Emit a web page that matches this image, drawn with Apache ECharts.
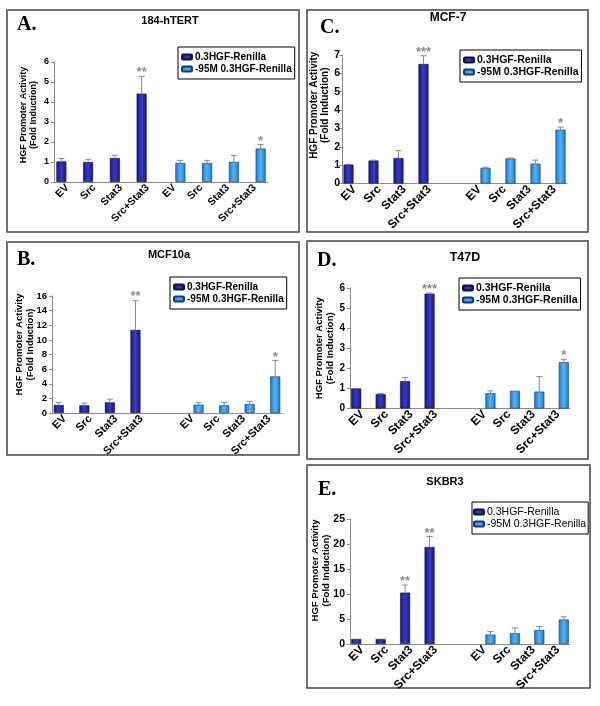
<!DOCTYPE html>
<html><head><meta charset="utf-8">
<script src="https://cdn.jsdelivr.net/npm/echarts@6/dist/echarts.min.js"></script>
<style>html,body{margin:0;padding:0;background:#fff}#c{width:600px;height:706px}</style>
</head><body><div id="c"></div>
<script>
// ---------- data ----------
const seriesNames = ['0.3HGF-Renilla', '-95M 0.3HGF-Renilla'];
const groupCats = ['EV', 'Src', 'Stat3', 'Src+Stat3'];
const yName = 'HGF Promoter Activity\n(Fold Induction)';

// A. 184-hTERT (8 categories, no spacer)
const aDark = [1.03, 1.0, 1.2, 4.42];
const aDarkErr = [1.17, 1.12, 1.33, 5.28];
const aDarkSig = ['', '', '', '**'];
const aLight = [0.95, 0.95, 1.0, 1.67];
const aLightErr = [1.08, 1.08, 1.32, 1.87];
const aLightSig = ['', '', '', '*'];
const aTicks = [0, 6, 1];

// B. MCF10a
const bDark = [1.1, 1.05, 1.45, 11.36];
const bDarkErr = [1.45, 1.36, 1.9, 15.4];
const bDarkSig = ['', '', '', '**'];
const bLight = [1.14, 1.05, 1.23, 5.0];
const bLightErr = [1.45, 1.45, 1.6, 7.18];
const bLightSig = ['', '', '', '*'];
const bTicks = [0, 16, 2];

// C. MCF-7
const cDark = [1.03, 1.25, 1.39, 6.51];
const cDarkErr = [1.05, 1.27, 1.79, 6.96];
const cDarkSig = ['', '', '', '***'];
const cLight = [0.85, 1.36, 1.08, 2.93];
const cLightErr = [0.89, 1.39, 1.27, 3.07];
const cLightSig = ['', '', '', '*'];
const cTicks = [0, 7, 1];

// D. T47D
const dDark = [1.0, 0.71, 1.36, 5.72];
const dDarkErr = [1.0, 0.75, 1.54, 5.75];
const dDarkSig = ['', '', '', '***'];
const dLight = [0.76, 0.88, 0.84, 2.31];
const dLightErr = [0.88, 0.88, 1.59, 2.45];
const dLightSig = ['', '', '', '*'];
const dTicks = [0, 6, 1];

// E. SKBR3
const eDark = [1.0, 1.0, 10.27, 19.4];
const eDarkErr = [1.0, 1.0, 11.8, 21.5];
const eDarkSig = ['', '', '**', '**'];
const eLight = [1.88, 2.14, 2.8, 4.9];
const eLightErr = [2.48, 3.2, 3.5, 5.43];
const eLightSig = ['', '', '', ''];
const eTicks = [0, 25, 5];

// ---------- layout / style ----------
const FONT = 'Liberation Sans';
const darkColor = {type:'linear',x:0,y:0,x2:1,y2:0,colorStops:[
  {offset:0,color:'#17177e'},{offset:0.5,color:'#3838cc'},{offset:1,color:'#17177e'}]};
const lightColor = {type:'linear',x:0,y:0,x2:1,y2:0,colorStops:[
  {offset:0,color:'#1a78d0'},{offset:0.5,color:'#52b4ff'},{offset:1,color:'#1a78d0'}]};

const panels = [
  {key:'A', title:'184-hTERT', dark:aDark, darkErr:aDarkErr, darkSig:aDarkSig, light:aLight, lightErr:aLightErr, lightSig:aLightSig, ticks:aTicks, spacer:false,
   grid:{left:54, top:62, width:214, height:120}, box:[7,10,292,222], titlePos:[170,15], titleFont:11, letterPos:[17,15],
   legend:{left:178, top:47}, legendPad:[4,3,4,3], legendFont:10, yFont:9, yMargin:5, nameFont:9, nameGap:15, nameShift:14, catFont:10.5, legendBold:true},
  {key:'B', title:'MCF10a', dark:bDark, darkErr:bDarkErr, darkSig:bDarkSig, light:bLight, lightErr:bLightErr, lightSig:bLightSig, ticks:bTicks, spacer:true,
   grid:{left:52, top:296, width:230, height:117}, box:[7,242,292,213], titlePos:[169,249], titleFont:11, letterPos:[17,250],
   legend:{left:170, top:277}, legendPad:[4,3,4,3], legendFont:10, yFont:9.5, yMargin:5, nameFont:9.5, nameGap:16, nameShift:20, catFont:11, legendBold:true},
  {key:'C', title:'MCF-7', dark:cDark, darkErr:cDarkErr, darkSig:cDarkSig, light:cLight, lightErr:cLightErr, lightSig:cLightSig, ticks:cTicks, spacer:true,
   grid:{left:342, top:55, width:225, height:128.5}, box:[307,10,281,222], titlePos:[448,12], titleFont:12, letterPos:[320,18],
   legend:{left:460, top:50}, legendPad:[4,3,4,3], legendFont:10.5, yFont:10.5, yMargin:2, nameFont:10, nameGap:11, nameShift:28, catFont:12, legendBold:true},
  {key:'D', title:'T47D', dark:dDark, darkErr:dDarkErr, darkSig:dDarkSig, light:dLight, lightErr:dLightErr, lightSig:dLightSig, ticks:dTicks, spacer:true,
   grid:{left:350, top:288, width:220, height:120.5}, box:[307,241,281,218], titlePos:[465,251], titleFont:12.5, letterPos:[317,251],
   legend:{left:459, top:278}, legendPad:[4,3,4,3], legendFont:10.5, yFont:10, yMargin:5, nameFont:9.5, nameGap:14, nameShift:0, catFont:12, legendBold:true},
  {key:'E', title:'SKBR3', dark:eDark, darkErr:eDarkErr, darkSig:eDarkSig, light:eLight, lightErr:eLightErr, lightSig:eLightSig, ticks:eTicks, spacer:true,
   grid:{left:350, top:519, width:220, height:125}, box:[307,465,283,223], titlePos:[445,476], titleFont:11, letterPos:[318,480],
   legend:{left:472, top:502}, legendPad:[4,2,4,1], legendFont:10.5, yFont:10.5, yMargin:5, nameFont:9.5, nameGap:18, nameShift:22, catFont:12, legendBold:false}
];

const grids = [], xAxes = [], yAxes = [], series = [], titles = [], legends = [], graphics = [];

function errSeries(idx, pts, sigs, side){
  return {
    type:'custom', xAxisIndex:idx, yAxisIndex:idx, silent:true, z:5,
    encode:{x:0, y:[1,2]},
    data: pts,
    renderItem:function(params, api){
      const xi = api.value(0), v = api.value(1), e = api.value(2);
      const p0 = api.coord([xi, v]);
      const p1 = api.coord([xi, e]);
      const cx = p0[0] + side * 6;
      const ch = [];
      if (e > v + 1e-9){
        ch.push({type:'line', shape:{x1:cx,y1:p0[1],x2:cx,y2:p1[1]}, style:{stroke:'#8a8a8a', lineWidth:1}});
        ch.push({type:'line', shape:{x1:cx-3,y1:p1[1],x2:cx+3,y2:p1[1]}, style:{stroke:'#8a8a8a', lineWidth:1}});
      }
      const s = sigs[params.dataIndex];
      if (s){
        ch.push({type:'text', style:{text:s, x:cx, y:p1[1]-10, align:'center', verticalAlign:'top',
          fill:'#8a8a8a', font:'bold 13px "' + FONT + '"'}});
      }
      return {type:'group', children:ch};
    }
  };
}

panels.forEach((p, i) => {
  const cats = p.spacer ? groupCats.concat([''], groupCats) : groupCats.concat(groupCats);
  const off = cats.length - 4;
  grids.push(Object.assign({containLabel:false}, p.grid));
  xAxes.push({
    type:'category', gridIndex:i, data:cats,
    axisLine:{lineStyle:{color:'#8a8a8a', width:1}},
    axisTick:{show:false},
    axisLabel:{interval:0, rotate:45, margin:4, color:'#000', fontFamily:FONT, fontWeight:'bold', fontSize:p.catFont}
  });
  yAxes.push({
    type:'value', gridIndex:i, min:p.ticks[0], max:p.ticks[1], interval:p.ticks[2],
    name:yName, nameLocation:'middle', nameRotate:90, nameGap:p.nameGap, nameMoveOverlap:false,
    nameTextStyle:{color:'#000', fontFamily:FONT, fontWeight:'bold', fontSize:p.nameFont, lineHeight:p.nameFont+1.5,
      padding:[0,0,0,p.nameShift]},
    axisLine:{show:true, lineStyle:{color:'#8a8a8a', width:1}},
    axisTick:{show:true, length:3, lineStyle:{color:'#8a8a8a'}},
    splitLine:{show:false},
    axisLabel:{margin:p.yMargin, color:'#000', fontFamily:FONT, fontWeight:'bold', fontSize:p.yFont}
  });
  const darkData = cats.map((c, k) => k < 4 ? p.dark[k] : '-');
  const lightData = cats.map((c, k) => k >= off ? p.light[k - off] : '-');
  series.push({name:seriesNames[0], type:'bar', xAxisIndex:i, yAxisIndex:i, data:darkData, barWidth:10, barGap:'20%',
    itemStyle:{color:darkColor, borderColor:'#101040', borderWidth:0.6}});
  series.push({name:seriesNames[1], type:'bar', xAxisIndex:i, yAxisIndex:i, data:lightData, barWidth:10, barGap:'20%',
    itemStyle:{color:lightColor, borderColor:'#0d3a6a', borderWidth:0.6}});
  series.push(errSeries(i, p.dark.map((v, k) => [k, v, p.darkErr[k]]), p.darkSig, -1));
  series.push(errSeries(i, p.light.map((v, k) => [k + off, v, p.lightErr[k]]), p.lightSig, 1));

  titles.push({text:p.title, left:p.titlePos[0], top:p.titlePos[1], textAlign:'center', padding:0,
    textStyle:{fontFamily:FONT, fontWeight:'bold', fontSize:p.titleFont, color:'#000'}});
  titles.push({text:p.key + '.', left:p.letterPos[0], top:p.letterPos[1], padding:0,
    textStyle:{fontFamily:'Liberation Serif', fontWeight:'bold', fontSize:20, color:'#000'}});
  legends.push({
    data:seriesNames, orient:'vertical', left:p.legend.left, top:p.legend.top,
    itemWidth:10, itemHeight:5, itemGap:0, padding:p.legendPad,
    borderColor:'#000', borderWidth:1, backgroundColor:'#fff', selectedMode:false,
    textStyle:{fontFamily:FONT, fontWeight:p.legendBold ? 'bold' : 'normal', fontSize:p.legendFont, color:'#000', lineHeight:12, padding:[0,0,0,-2]}
  });
  graphics.push({type:'rect', shape:{x:p.box[0], y:p.box[1], width:p.box[2], height:p.box[3]},
    style:{fill:'none', stroke:'#444', lineWidth:1.5}, silent:true, z:-1});
});

const chart = echarts.init(document.getElementById('c'), null, {renderer:'canvas'});
chart.setOption({
  animation:false,
  backgroundColor:'#fff',
  title:titles,
  legend:legends,
  grid:grids, xAxis:xAxes, yAxis:yAxes, series:series,
  graphic:graphics
});
</script>
</body></html>
